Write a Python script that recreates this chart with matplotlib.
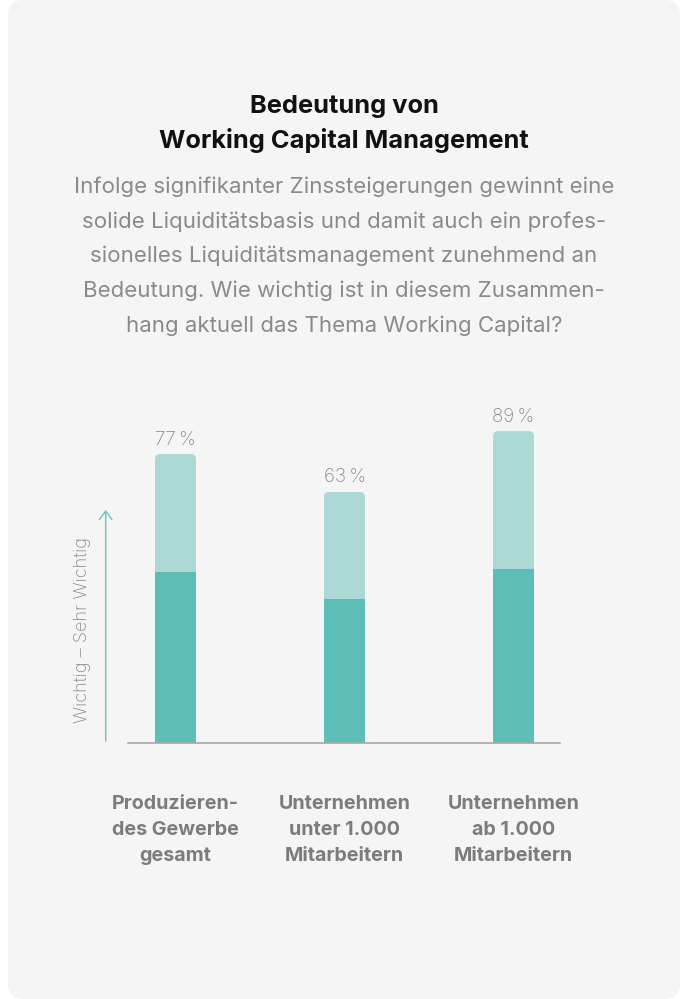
import numpy as np
import matplotlib.pyplot as plt
from matplotlib.patches import FancyBboxPatch

plt.rcParams['font.family'] = ['Inter', 'DejaVu Sans']

# data
kategorien = ['Produzieren-\ndes Gewerbe\ngesamt',
              'Unternehmen\nunter 1.000\nMitarbeitern',
              'Unternehmen\nab 1.000\nMitarbeitern']
werte = [77, 63, 89]                    # printed label values (%)
hoehe_gesamt = [77.0, 66.9, 83.1]       # drawn bar heights
hoehe_sehr_wichtig = [45.6, 38.4, 46.4] # dark lower segment

titel = 'Bedeutung von\nWorking Capital Management'
untertitel = ('Infolge signifikanter Zinssteigerungen gewinnt eine\n'
              'solide Liquiditätsbasis und damit auch ein profes-\n'
              'sionelles Liquiditätsmanagement zunehmend an\n'
              'Bedeutung. Wie wichtig ist in diesem Zusammen-\n'
              'hang aktuell das Thema Working Capital?')
achsen_titel = 'Wichtig – Sehr Wichtig'

DUNKEL = '#5dbdb7'
HELL = '#acd9d6'
GRAU_TEXT = '#8a8a8a'
W, H = 680, 999

fig = plt.figure(figsize=(W / 100, H / 100), dpi=100)
fig.patch.set_facecolor('white')

# background card
bg = fig.add_axes([0, 0, 1, 1])
bg.set_xlim(0, W)
bg.set_ylim(H, 0)
bg.axis('off')
bg.add_patch(FancyBboxPatch((8, 0), W - 8, H, boxstyle='round,pad=0,rounding_size=16',
                            facecolor='#f5f5f5', edgecolor='none'))

def fy(py):
    return 1 - py / H

fig.text(0.5 + 4 / W, fy(124), titel, ha='center', va='center', fontsize=18.3,
         fontweight='bold', color='#111111', linespacing=1.5)
fig.text(0.5 + 4 / W, fy(256), untertitel, ha='center', va='center', fontsize=16,
         fontweight='normal', color=GRAU_TEXT, linespacing=1.86)

# chart axes: baseline at y=743px, 100 units = 375 px; x: centres 169 px apart
ax_l, ax_r = 128, 560
ax_b, ax_t = 743, 743 - 375.3
ax = fig.add_axes([ax_l / W, fy(ax_b), (ax_r - ax_l) / W, (ax_b - ax_t) / H])
ax.patch.set_alpha(0)
x = np.arange(len(kategorien))
ax.set_xlim(-0.281, 2.275)
ax.set_ylim(0, 100)

breite = 41 / 169
aspect = (100 / 375.3) / (1 / 169)
for xi, tot, dk, v in zip(x, hoehe_gesamt, hoehe_sehr_wichtig, werte):
    ax.add_patch(FancyBboxPatch((xi - breite / 2, 0), breite, tot,
                                boxstyle='round,pad=0,rounding_size=0.03',
                                mutation_aspect=aspect, facecolor=HELL, edgecolor='none'))
    ax.text(xi, tot + 14.5 * 100 / 375.3, f'{v}\u2009%', ha='center', va='center',
            fontsize=13.5, fontweight='light', color=GRAU_TEXT)
ax.bar(x, hoehe_sehr_wichtig, width=breite, color=DUNKEL, edgecolor='none')

for s in ['top', 'right', 'left']:
    ax.spines[s].set_visible(False)
ax.spines['bottom'].set_color('#a8a8a8')
ax.spines['bottom'].set_linewidth(1.2)
ax.set_yticks([])
ax.set_xticks(x)
ax.set_xticklabels(kategorien, fontsize=14.2, fontweight='bold', color='#7c7c7c',
                   linespacing=1.58)
ax.tick_params(axis='x', length=0, pad=37.5)

# arrow on the left
ax.annotate('', xy=(-0.0516, 0.621), xytext=(-0.0516, 0.005), xycoords='axes fraction',
            arrowprops=dict(arrowstyle='->,head_length=0.6,head_width=0.45',
                            color='#6cc3bd', lw=1.0, shrinkA=0, shrinkB=0))
ax.text(-0.106, 0.3, achsen_titel, transform=ax.transAxes, rotation=90,
        ha='center', va='center', fontsize=13, fontweight='light', color=GRAU_TEXT)

fig.savefig('out.png', dpi=100, facecolor='white')
